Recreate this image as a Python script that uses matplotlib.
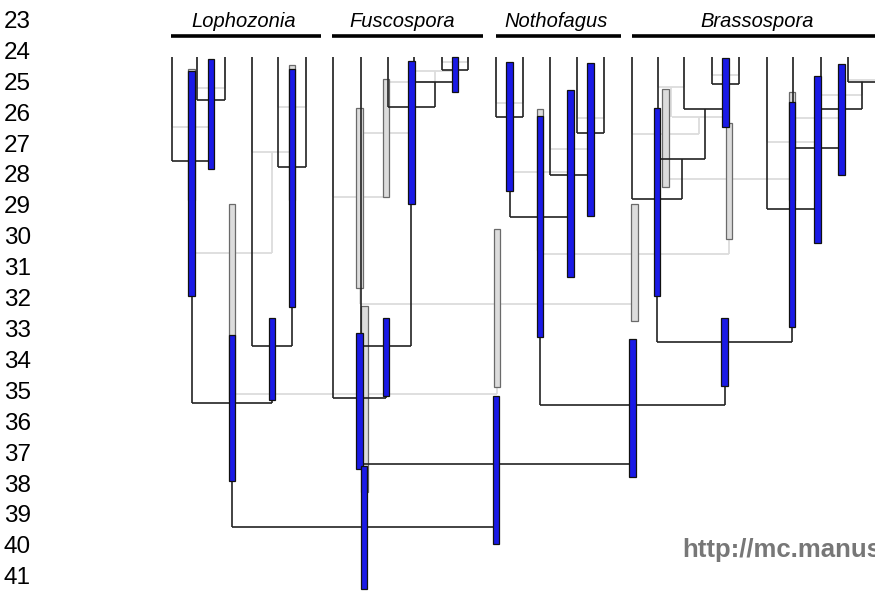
import numpy as np
import matplotlib.pyplot as plt

plt.rcParams['font.family'] = ['Liberation Sans', 'DejaVu Sans']

# manuscript line numbers down the left margin
line_numbers = list(range(23, 42))

# clade headers and the extent of their bracket lines
clades = ['Lophozonia', 'Fuscospora', 'Nothofagus', 'Brassospora']
clade_start = [171, 332, 496, 632]
clade_end = [321, 483, 621, 875]
clade_label_x = [244, 402, 556, 757]

# tips (x position) and the age of their parent node in each tree
tip_top = 57
tip_x = [172, 197, 225, 252, 278, 306,
         333, 361, 388, 414, 442, 468,
         496, 523, 550, 577, 604,
         632, 658, 684, 712, 739, 767, 793, 821, 848, 876]
tip_parent_blk = [161, 100, 100, 346, 167, 167,
                  398, 346, 107, 82, 70, 70,
                  117, 117, 175, 133, 133,
                  199, 159, 109, 84, 84, 209, 148, 109, 82, 82]
tip_parent_gry = [127, 88, 88, 152, 107, 107,
                  197, 133, 82, 71, 62, 62,
                  103, 103, 149, 118, 118,
                  134, 87, 87, 75, 75, 142, 118, 95, 80, 80]

# dark tree: child positions, node age, parent age, HPD interval (nan = none)
blk_left = [197, 172, 278, 252, 191.5,
            442, 414, 388, 361, 333,
            496, 577, 550, 509.5,
            712, 684, 658, 632, 848, 821, 793, 767, 657,
            540, 359.5, 232]
blk_right = [225, 211, 306, 292, 272,
             468, 455, 434.5, 411, 386,
             523, 604, 590.5, 570,
             739, 725.5, 705, 681.5, 876, 862, 841.5, 817, 792,
             724.5, 632, 496]
blk_age = [100, 161, 167, 346, 403,
           70, 82, 107, 346, 398,
           117, 133, 175, 217,
           84, 109, 159, 199, 82, 109, 148, 209, 342,
           405, 464, 527]
blk_parent = [161, 403, 346, 403, 527,
              82, 107, 346, 398, 464,
              217, 175, 217, 405,
              109, 159, 199, 342, 109, 148, 209, 342, 405,
              464, 527, np.nan]
blk_hpd_top = [59, 71, 69, 318, 335,
               57, np.nan, 61, 318, 333,
               62, 63, 90, 116,
               58, np.nan, np.nan, 108, np.nan, 64, 76, 102, 318,
               339, 396, 466]
blk_hpd_bot = [169, 296, 307, 400, 481,
               92, np.nan, 204, 396, 469,
               191, 216, 277, 337,
               127, np.nan, np.nan, 296, np.nan, 175, 243, 327, 386,
               477, 544, 589]

# pale tree (alternative dating)
gry_left = [197, 172, 278, 252, 191.5,
            442, 414, 388, 361, 333,
            496, 577, 550, 509.5,
            712, 658, 672, 632, 848, 821, 793, 767, 665.5,
            540, 359.5, 232]
gry_right = [225, 211, 306, 292, 272,
             468, 455, 434.5, 411, 386,
             523, 604, 590.5, 570,
             739, 684, 725.5, 699, 876, 862, 841.5, 817, 792,
             728.75, 634, 497]
gry_age = [88, 127, 107, 152, 253,
           62, 71, 82, 133, 197,
           103, 118, 149, 172,
           75, 87, 117, 134, 80, 95, 118, 142, 179,
           254, 304, 394]
gry_parent = [127, 253, 152, 253, 394,
              71, 82, 133, 197, 304,
              172, 149, 172, 254,
              117, 117, 134, 179, 95, 118, 142, 179, 254,
              304, 394, np.nan]
gry_hpd_top = [np.nan, 69, 65, np.nan, 204,
               np.nan, np.nan, np.nan, 79, 108,
               np.nan, np.nan, np.nan, 109,
               np.nan, np.nan, np.nan, 89, np.nan, np.nan, np.nan, 92, 123,
               204, 229, 306]
gry_hpd_bot = [np.nan, 200, 200, 236, 400,
               np.nan, np.nan, np.nan, 197, 288,
               np.nan, np.nan, np.nan, 250,
               np.nan, np.nan, np.nan, 187, np.nan, np.nan, np.nan, 200, 239,
               321, 387, 492]


def draw_tree(ax, left, right, age, parent, tip_parent, color, lw, z):
    left = np.array(left)
    right = np.array(right)
    mid = (left + right) / 2
    ax.vlines(tip_x, tip_top, tip_parent, color=color, lw=lw, zorder=z)
    ax.hlines(age, left, right, color=color, lw=lw, zorder=z)
    has_parent = ~np.isnan(np.array(parent, dtype=float))
    ax.vlines(mid[has_parent], np.array(age)[has_parent],
              np.array(parent)[has_parent], color=color, lw=lw, zorder=z)
    return mid


def draw_bars(ax, x, top, bot, face, edge, z):
    top = np.array(top, dtype=float)
    bot = np.array(bot, dtype=float)
    ok = ~np.isnan(top)
    ax.bar(x[ok], bot[ok] - top[ok], bottom=top[ok], width=6.5,
           color=face, edgecolor=edge, linewidth=0.9, zorder=z)


fig = plt.figure(figsize=(8.75, 5.92), dpi=100)
ax = fig.add_axes([0, 0, 1, 1])
ax.set_xlim(0, 875)
ax.set_ylim(592, 0)
ax.axis('off')

for i, n in enumerate(line_numbers):
    ax.text(4, 22 + i * 30.9, str(n), ha='left', va='center', fontsize=17.5)

for name, x0, x1, lx in zip(clades, clade_start, clade_end, clade_label_x):
    ax.hlines(36, x0, x1, color='black', lw=2.6)
    ax.text(lx, 27, name, ha='center', va='baseline',
            style='italic', fontsize=14.5)

gmid = draw_tree(ax, gry_left, gry_right, gry_age, gry_parent,
                 tip_parent_gry, '#dcdcdc', 1.3, 1)
draw_bars(ax, gmid, gry_hpd_top, gry_hpd_bot, '#dcdcdc', '#6a6a6a', 2)

bmid = draw_tree(ax, blk_left, blk_right, blk_age, blk_parent,
                 tip_parent_blk, '#222222', 1.2, 3)
draw_bars(ax, bmid, blk_hpd_top, blk_hpd_bot, '#1a1ae6', '#111111', 4)

# watermark, cut by the right edge as in the source page
ax.text(682, 557, 'http://mc.manuscriptcentral.com', ha='left',
        va='baseline', fontsize=18.5, fontweight='bold', color='#777777')

plt.savefig('out.png', dpi=100)
